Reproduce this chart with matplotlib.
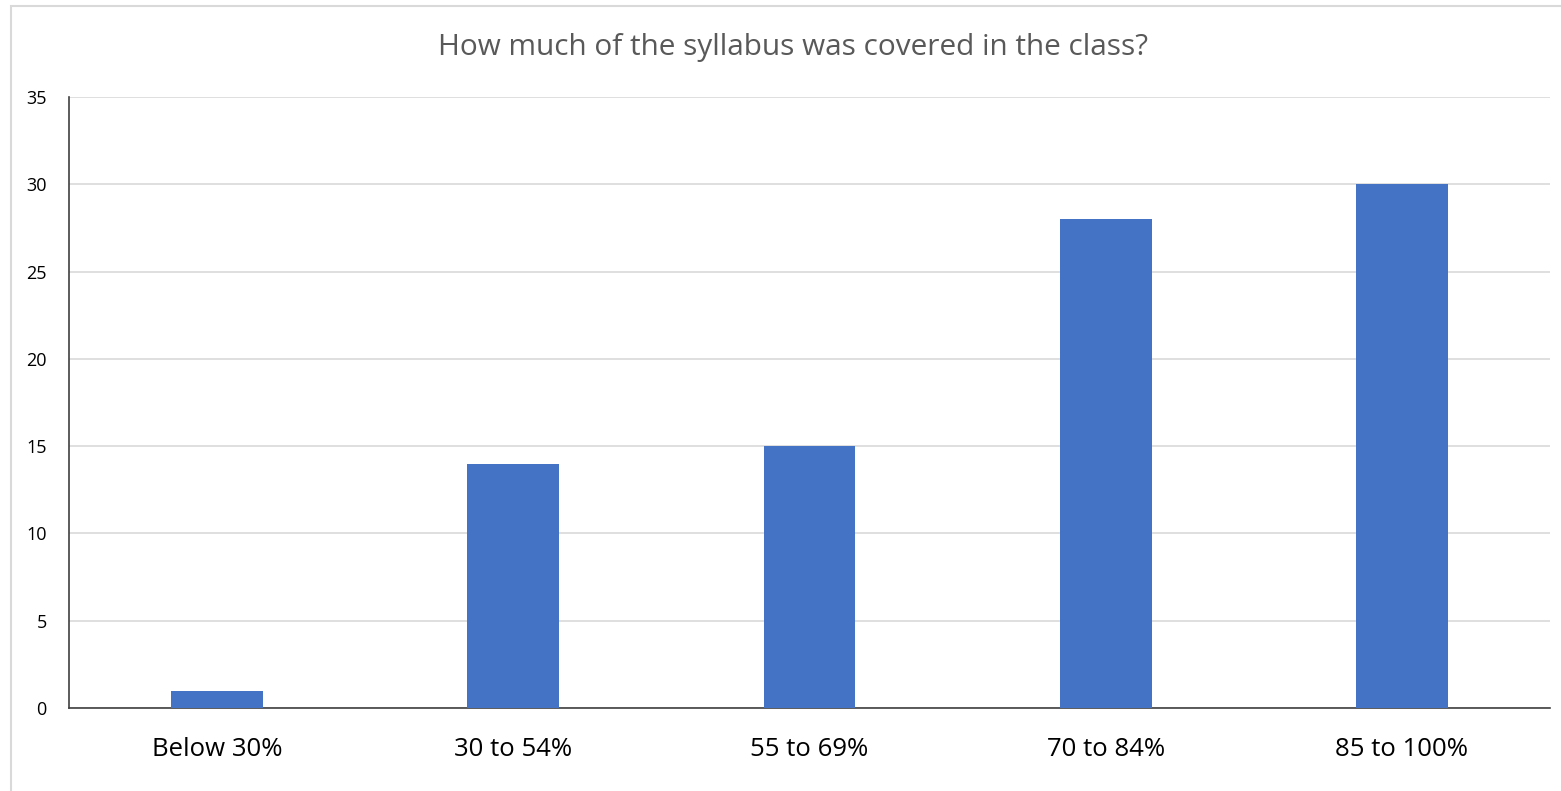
import matplotlib
matplotlib.use("Agg")
import matplotlib.pyplot as plt
from matplotlib.patches import Rectangle

categories = ["Below 30%", "30 to 54%", "55 to 69%", "70 to 84%", "85 to 100%"]
values = [1, 14, 15, 28, 30]
title = "How much of the syllabus was covered in the class?"
yticks = [0, 5, 10, 15, 20, 25, 30, 35]

W, H = 1561, 791
fig = plt.figure(figsize=(W / 100, H / 100), dpi=100)
plt.rcParams['font.family'] = ['Open Sans', 'DejaVu Sans']

# chart-area border (cropped at right/bottom)
fig.add_artist(Rectangle((11 / W, -0.1), 1.2, (H - 6) / H + 0.1, transform=fig.transFigure,
                         fill=False, edgecolor='#d9d9d9', linewidth=1.5))

left, right, top, bottom = 69, 1550, 97, 708
ax = fig.add_axes([left / W, 1 - bottom / H, (right - left) / W, (bottom - top) / H])
x = range(len(categories))
ax.bar(x, values, width=0.31, color='#4472c4', zorder=3)
ax.set_xlim(-0.5, len(categories) - 0.5)
ax.set_ylim(0, 35)
ax.set_yticks(yticks)
ax.set_yticklabels([str(v) for v in yticks], fontsize=13, color='#000000')
ax.set_xticks(list(x))
ax.set_xticklabels(categories, fontsize=18.5, color='#000000')
ax.tick_params(axis='both', length=0)
ax.tick_params(axis='y', pad=16)
ax.tick_params(axis='x', pad=21)
ax.grid(axis='y', color='#d9d9d9', linewidth=1.2, zorder=0)
for s in ['top', 'right']:
    ax.spines[s].set_visible(False)
for s in ['left', 'bottom']:
    ax.spines[s].set_color('#404040')
    ax.spines[s].set_linewidth(1.2)

fig.text(793 / W, 1 - 47 / H, title, ha='center', va='center',
         fontsize=21.4, color='#595959')

fig.savefig("out.png", dpi=100)
